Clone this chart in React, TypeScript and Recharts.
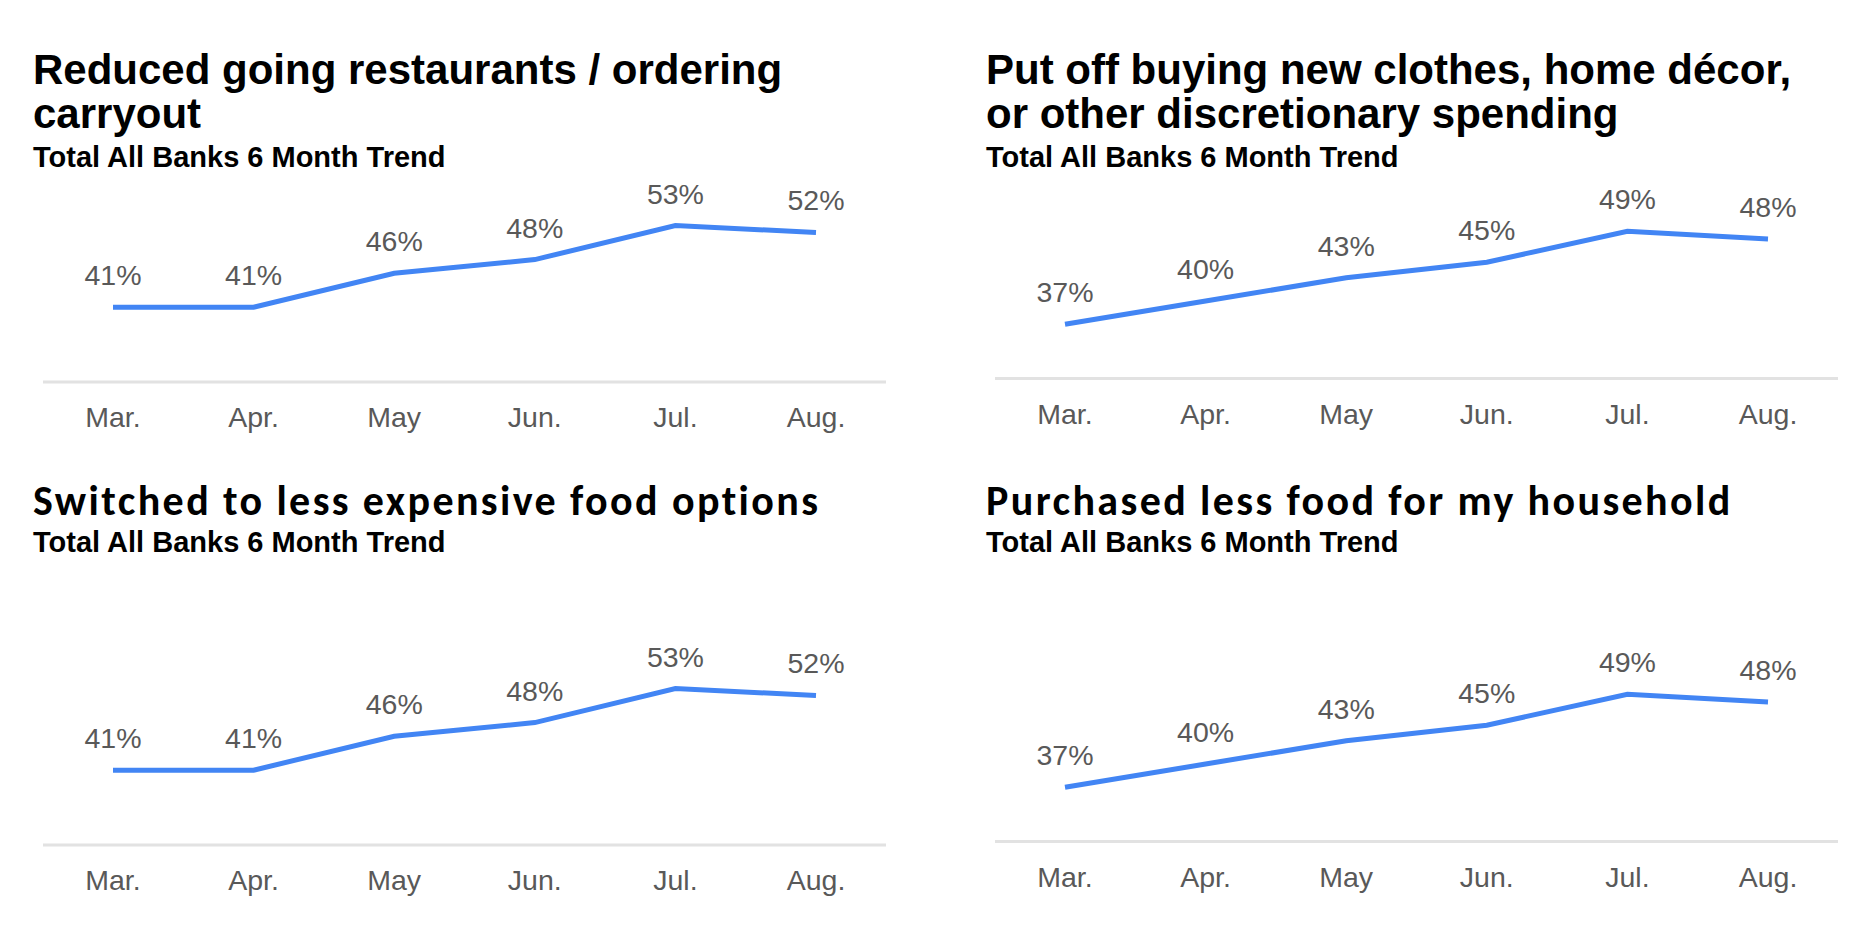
import { LineChart, Line, XAxis, YAxis, LabelList } from "recharts";

// Months surveyed and the share of respondents (%) for each behaviour
const months = ["Mar.", "Apr.", "May", "Jun.", "Jul.", "Aug."];
const restaurantsPct = [41, 41, 46, 48, 53, 52];
const discretionaryPct = [37, 40, 43, 45, 49, 48];
const cheaperFoodPct = [41, 41, 46, 48, 53, 52];
const lessFoodPct = [37, 40, 43, 45, 49, 48];

const subtitle = "Total All Banks 6 Month Trend";

const ARIAL = '"Liberation Sans", Arial, Helvetica, sans-serif';
const CALIBRI = 'Carlito, Calibri, Lato, "Noto Sans", sans-serif';
const LINE_BLUE = "#4285f4";
const TEXT_GRAY = "#595959";

interface TitleLine {
  text: string;
  baseline: number; // baseline y inside the panel
}

interface PanelSpec {
  left: number;
  top: number;
  titleLines: TitleLine[];
  titleFont: "arial" | "calibri";
  subtitleBaseline: number;
  values: number[];
  yMax: number;
  plotHeight: number;
  plotBottom: number; // y of the baseline, relative to the panel
}

const PLOT_WIDTH = 843;
const MARGIN_TOP = 40;
const AXIS_HEIGHT = 60;

const toRows = (values: number[]) => months.map((m, i) => ({ month: m, pct: values[i] }));

const renderValueLabel = (props: any) => {
  const vb = props.viewBox || {};
  const x = props.x ?? vb.x;
  const y = props.y ?? vb.y;
  if (x == null || y == null) return null;
  return (
    <text x={x} y={y - 22} textAnchor="middle" fill={TEXT_GRAY} fontSize={28.5} fontFamily={ARIAL}>
      {props.value}%
    </text>
  );
};

// one line of text placed by its baseline (line-height equals font size)
function TextLine({ x, baseline, size, ascentRatio, style, children }: any) {
  return (
    <div
      style={{
        position: "absolute",
        left: x,
        top: baseline - size * ascentRatio,
        fontSize: size,
        lineHeight: `${size}px`,
        fontWeight: 700,
        whiteSpace: "nowrap",
        color: "#000",
        ...style,
      }}
    >
      {children}
    </div>
  );
}

function TrendPanel({ spec }: { spec: PanelSpec }) {
  const plotTop = spec.plotBottom - spec.plotHeight;
  const textX = spec.left === 0 ? 33 : 60;
  const calibri = spec.titleFont === "calibri";
  return (
    <div style={{ position: "absolute", left: spec.left, top: spec.top, width: 926, height: 463 }}>
      {spec.titleLines.map((line) => (
        <TextLine
          key={line.text}
          x={textX}
          baseline={line.baseline}
          size={42}
          ascentRatio={calibri ? 0.887 : 0.8465}
          style={calibri ? { fontFamily: CALIBRI, fontWeight: 900, letterSpacing: 2.4 } : { fontFamily: ARIAL }}
        >
          {line.text}
        </TextLine>
      ))}
      <TextLine x={textX} baseline={spec.subtitleBaseline} size={29} ascentRatio={0.8465} style={{ fontFamily: ARIAL }}>
        {subtitle}
      </TextLine>
      <div
        style={{
          position: "absolute",
          left: spec.left === 0 ? 43 : 69,
          top: plotTop - MARGIN_TOP,
        }}
      >
        <LineChart
          width={PLOT_WIDTH}
          height={MARGIN_TOP + spec.plotHeight + AXIS_HEIGHT}
          data={toRows(spec.values)}
          margin={{ top: MARGIN_TOP, right: 0, bottom: 0, left: 0 }}
        >
          <XAxis
            dataKey="month"
            height={AXIS_HEIGHT}
            padding={{ left: 70, right: 70 }}
            axisLine={{ stroke: "#e2e2e2", strokeWidth: 3 }}
            tickLine={false}
            tickSize={6}
            tickMargin={19}
            tick={{ fill: TEXT_GRAY, fontSize: 28.5, fontFamily: ARIAL }}
            interval={0}
          />
          <YAxis hide domain={[30, spec.yMax]} />
          <Line
            type="linear"
            dataKey="pct"
            stroke={LINE_BLUE}
            strokeWidth={5}
            dot={false}
            activeDot={false}
            isAnimationActive={false}
          >
            <LabelList dataKey="pct" content={renderValueLabel} />
          </Line>
        </LineChart>
      </div>
    </div>
  );
}

const panels: PanelSpec[] = [
  {
    left: 0,
    top: 0,
    titleLines: [
      { text: "Reduced going restaurants / ordering", baseline: 85 },
      { text: "carryout", baseline: 129 },
    ],
    titleFont: "arial",
    subtitleBaseline: 168,
    values: restaurantsPct,
    yMax: 60,
    plotHeight: 204,
    plotBottom: 382,
  },
  {
    left: 926,
    top: 0,
    titleLines: [
      { text: "Put off buying new clothes, home décor,", baseline: 85 },
      { text: "or other discretionary spending", baseline: 129 },
    ],
    titleFont: "arial",
    subtitleBaseline: 168,
    values: discretionaryPct,
    yMax: 56,
    plotHeight: 201.5,
    plotBottom: 378.5,
  },
  {
    left: 0,
    top: 463,
    titleLines: [{ text: "Switched to less expensive food options", baseline: 54 }],
    titleFont: "calibri",
    subtitleBaseline: 90,
    values: cheaperFoodPct,
    yMax: 60,
    plotHeight: 204,
    plotBottom: 382,
  },
  {
    left: 926,
    top: 463,
    titleLines: [{ text: "Purchased less food for my household", baseline: 54 }],
    titleFont: "calibri",
    subtitleBaseline: 90,
    values: lessFoodPct,
    yMax: 56,
    plotHeight: 201.5,
    plotBottom: 378.5,
  },
];

export default function App() {
  return (
    <div style={{ position: "absolute", left: 0, top: 0, width: 1852, height: 926, background: "#fff", overflow: "hidden" }}>
      {panels.map((p) => (
        <TrendPanel key={p.titleLines[0].text} spec={p} />
      ))}
    </div>
  );
}
